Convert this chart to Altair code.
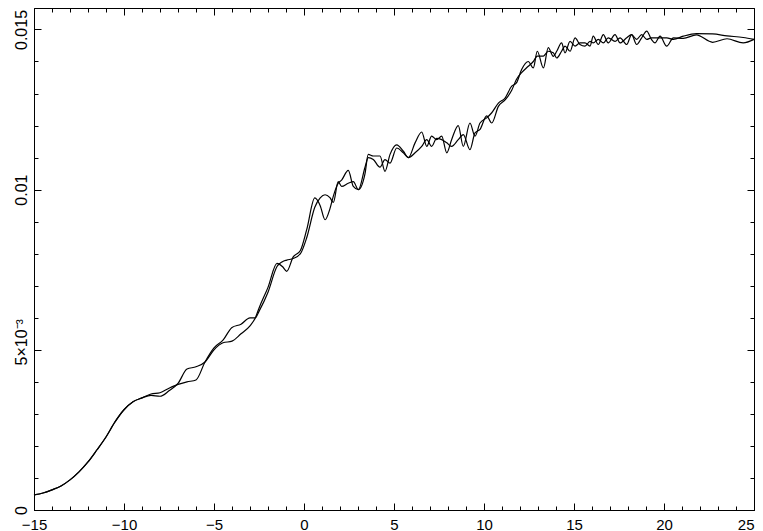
import altair as alt
import pandas as pd

# shared smooth part (x, y in units of 1e-3)
x_shared = [-15, -14.5, -14, -13.5, -13, -12.5, -12, -11.5, -11, -10.5, -10, -9.5, -9]
y_shared = [0.47, 0.53, 0.63, 0.75, 0.94, 1.19, 1.50, 1.88, 2.28, 2.75, 3.13, 3.38, 3.50]

x_split = [-8.5, -8, -7.5, -7, -6.5, -6, -5.5, -5, -4.5, -4,
           -3.5, -3, -2.7, -2.5, -2, -1.5, -1.2, -0.96, -0.6, -0.2,
           0.15, 0.6, 0.9, 1.17, 1.44, 1.63, 1.9, 2.09, 2.46, 2.74,
           3.02, 3.39, 3.57, 3.85, 4.22, 4.5, 4.78, 5.15, 5.52, 5.8,
           6.17, 6.54, 6.82, 7.09, 7.37, 7.65, 7.93, 8.2, 8.57, 8.85,
           9.22, 9.5, 9.78, 10.15, 10.43, 10.8, 11.17, 11.54, 11.8, 12.09,
           12.46, 12.74, 12.96, 13.3, 13.57, 13.85, 14.04, 14.31, 14.5, 14.78,
           15.06, 15.33, 15.61, 15.89, 16.07, 16.35, 16.63, 16.9, 17.28, 17.56,
           17.93, 18.2, 18.48, 18.76, 19.04, 19.3, 19.5, 19.78, 20.15, 20.52,
           21.07, 21.8, 22.7, 23.5, 24.4, 25]

y_a = [3.58, 3.55, 3.72, 3.95, 4.40, 4.47, 4.62, 5.00, 5.22, 5.27,
       5.50, 5.75, 6.00, 6.30, 6.95, 7.70, 7.60, 7.45, 7.90, 8.10,
       8.75, 9.74, 9.50, 9.06, 9.40, 9.80, 10.20, 10.30, 10.60, 10.10,
       10.00, 10.50, 11.10, 11.05, 11.05, 10.57, 11.10, 11.40, 11.20, 11.00,
       11.46, 11.80, 11.35, 11.67, 11.56, 11.67, 11.15, 11.56, 12.00, 11.35,
       12.08, 11.67, 12.08, 12.24, 12.40, 12.70, 12.86, 13.23, 13.33, 13.75,
       14.00, 13.80, 14.32, 13.80, 14.43, 14.16, 14.32, 14.58, 14.27, 14.63,
       14.48, 14.58, 14.58, 14.48, 14.79, 14.53, 14.84, 14.58, 14.84, 14.58,
       14.74, 14.84, 14.53, 14.74, 14.95, 14.69, 14.58, 14.79, 14.48, 14.74,
       14.72, 14.83, 14.60, 14.71, 14.58, 14.69]

y_b = [3.62, 3.66, 3.80, 3.92, 4.00, 4.06, 4.62, 5.06, 5.30, 5.70,
       5.80, 6.00, 6.00, 6.20, 6.80, 7.60, 7.75, 7.80, 7.85, 8.00,
       8.50, 9.45, 9.74, 9.84, 9.75, 9.60, 10.25, 10.10, 10.20, 10.25,
       10.00, 10.70, 11.00, 10.94, 10.70, 10.94, 10.83, 11.30, 11.15, 11.00,
       11.15, 11.35, 11.56, 11.35, 11.60, 11.56, 11.46, 11.35, 11.56, 11.72,
       11.25, 11.77, 11.88, 12.30, 12.08, 12.60, 12.80, 13.10, 13.44, 13.65,
       13.85, 14.00, 14.17, 14.17, 14.32, 14.27, 14.11, 14.32, 14.48, 14.32,
       14.74, 14.53, 14.48, 14.63, 14.58, 14.69, 14.58, 14.74, 14.63, 14.74,
       14.53, 14.84, 14.69, 14.84, 14.69, 14.74, 14.74, 14.74, 14.74, 14.69,
       14.79, 14.87, 14.86, 14.80, 14.75, 14.69]

x_major = [-15, -10, -5, 0, 5, 10, 15, 20, 25]
x_minor = list(range(-15, 26))
y_major = [0, 0.005, 0.01, 0.015]
y_minor = [i * 0.001 for i in range(16)]

rows = []
for name, ys in (("A", y_a), ("B", y_b)):
    for xv, yv in zip(x_shared + x_split, y_shared + ys):
        rows.append({"x": xv, "y": yv * 1e-3, "series": name})
df = pd.DataFrame(rows)

xs = alt.Scale(domain=[-15, 25], nice=False, zero=False)
ysc = alt.Scale(domain=[0, 0.01567], nice=False, zero=False)
FONT = "Liberation Sans"


def ax(orient, values, size, **kw):
    return alt.Axis(orient=orient, values=values, tickSize=size, offset=-size,
                    domain=False, grid=False, ticks=True, tickColor="black",
                    tickWidth=1, **kw)


y_label_expr = ("datum.value == 0 ? '0' : abs(datum.value - 0.005) < 1e-9 ? '5×10⁻³' : "
                "abs(datum.value - 0.01) < 1e-9 ? '0.01' : '0.015'")

main = alt.Chart(df).mark_line(color="black", strokeWidth=1.2, interpolate="monotone").encode(
    x=alt.X("x:Q", scale=xs, title=None,
            axis=ax("bottom", x_major, 7, labels=True, labelFont=FONT, labelFontSize=15,
                    labelColor="black", labelPadding=7, labelFlush=False, labelOverlap=False,
                    labelAlign={"condition": {"test": "datum.value == 25", "value": "right"},
                                "value": "center"})),
    y=alt.Y("y:Q", scale=ysc, title=None,
            axis=ax("left", y_major, 7, labels=True, labelFont=FONT, labelFontSize=16,
                    labelColor="black", labelAngle=270, labelAlign="center",
                    labelBaseline="bottom", labelPadding=5, labelFlush=False,
                    labelOverlap=False, labelExpr=y_label_expr,
                    labelOffset={"condition": {"test": "abs(datum.value - 0.005) < 1e-9", "value": -8},
                                 "value": 0})),
    detail="series:N",
)


def ghost(xo, xv, xsz, yo, yv, ysz):
    return alt.Chart(df).mark_point(opacity=0, size=1).encode(
        x=alt.X("x:Q", scale=xs, title=None, axis=ax(xo, xv, xsz, labels=False)),
        y=alt.Y("y:Q", scale=ysc, title=None, axis=ax(yo, yv, ysz, labels=False)),
    )


chart = alt.layer(
    main,
    ghost("bottom", x_minor, 4, "left", y_minor, 4),
    ghost("top", x_major, 7, "right", y_major, 7),
    ghost("top", x_minor, 4, "right", y_minor, 4),
).resolve_axis(x="independent", y="independent").properties(
    width=720, height=502,
    padding={"left": 26, "top": 0, "right": 1, "bottom": 30},
    autosize=alt.AutoSizeParams(type="none"),
).configure_view(stroke="black", strokeWidth=1)

chart.save("out.html", embed_options={"renderer": "svg", "actions": False})
